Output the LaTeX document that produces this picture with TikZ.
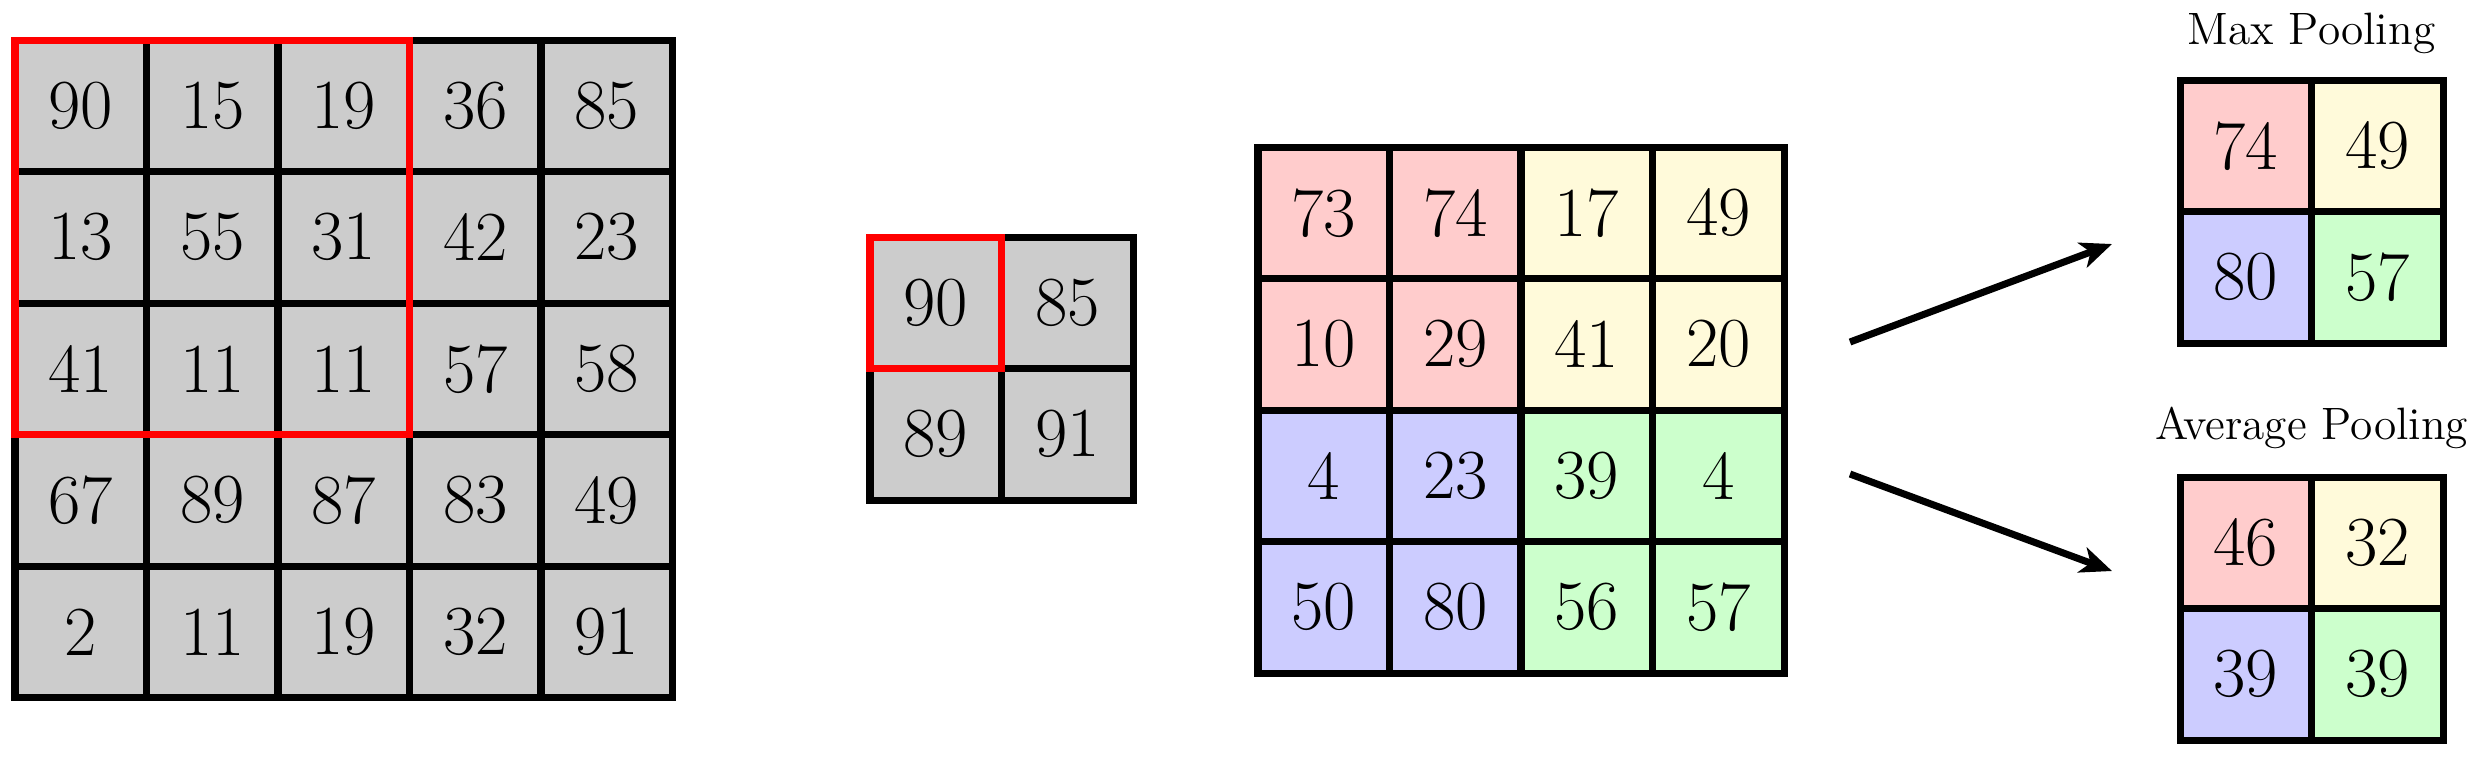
\documentclass[tikz,border=0pt]{standalone}
\usepackage{fontspec}
\usetikzlibrary{arrows.meta}
\definecolor{cgrey}{RGB}{204,204,204}
\definecolor{cred}{RGB}{255,204,204}
\definecolor{cyel}{RGB}{255,250,218}
\definecolor{cblue}{RGB}{204,204,255}
\definecolor{cgreen}{RGB}{204,255,204}
\begin{document}
\begin{tikzpicture}[x=0.01cm,y=-0.01cm,
  cell/.style={draw=black, line width=2pt, minimum size=1.315cm, inner sep=0pt, outer sep=0pt,
    anchor=north west, font=\fontsize{20}{24}\selectfont},
  win/.style={draw=red, line width=2pt},
  lab/.style={anchor=base, inner sep=0pt, font=\fontsize{12.9}{15}\selectfont},
  arr/.style={line width=2pt, -{Stealth[length=9pt,width=7.5pt,inset=2.5pt]}}
]
\useasboundingbox (0,0) rectangle (2481,759);

% input 5x5
\foreach \row [count=\r] in {{90,15,19,36,85},{13,55,31,42,23},{41,11,11,57,58},{67,89,87,83,49},{2,11,19,32,91}}{
  \foreach \v [count=\c] in \row {
    \node[cell, fill=cgrey] (a-\r-\c) at ({15+(\c-1)*131.5},{40+(\r-1)*131.5}) {\v};
  }
}
\draw[win] (a-1-1.north west) rectangle (a-3-3.south east);

% 2x2 result
\foreach \row [count=\r] in {{90,85},{89,91}}{
  \foreach \v [count=\c] in \row {
    \node[cell, fill=cgrey] (b-\r-\c) at ({870+(\c-1)*131.5},{237+(\r-1)*131.5}) {\v};
  }
}
\draw[win] (b-1-1.north west) rectangle (b-1-1.south east);

% 4x4 coloured
\foreach \row [count=\r] in {{73/cred,74/cred,17/cyel,49/cyel},{10/cred,29/cred,41/cyel,20/cyel},{4/cblue,23/cblue,39/cgreen,4/cgreen},{50/cblue,80/cblue,56/cgreen,57/cgreen}}{
  \foreach \v/\col [count=\c] in \row {
    \node[cell, fill=\col] (c-\r-\c) at ({1258+(\c-1)*131.5},{147+(\r-1)*131.5}) {\v};
  }
}

% max pooling
\foreach \row [count=\r] in {{74/cred,49/cyel},{80/cblue,57/cgreen}}{
  \foreach \v/\col [count=\c] in \row {
    \node[cell, fill=\col] (m-\r-\c) at ({2180+(\c-1)*131.5},{80+(\r-1)*131.5}) {\v};
  }
}
% average pooling
\foreach \row [count=\r] in {{46/cred,32/cyel},{39/cblue,39/cgreen}}{
  \foreach \v/\col [count=\c] in \row {
    \node[cell, fill=\col] (p-\r-\c) at ({2180+(\c-1)*131.5},{477+(\r-1)*131.5}) {\v};
  }
}
\node[lab] (maxlab) at (2311.5,44) {Max Pooling};
\node[lab] (avglab) at (2311.5,439) {Average Pooling};

% arrows
\coordinate (s1) at (1850,342);
\coordinate (t1) at (2112,244);
\coordinate (s2) at (1850,474);
\coordinate (t2) at (2112,571);
\draw[arr] (s1) -- (t1);
\draw[arr] (s2) -- (t2);
\end{tikzpicture}
\end{document}
